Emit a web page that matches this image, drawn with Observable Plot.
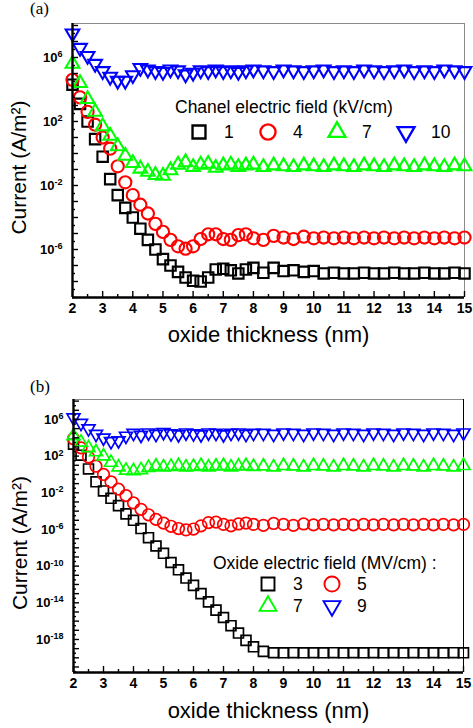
<!DOCTYPE html>
<html><head><meta charset="utf-8">
<script src="https://cdn.jsdelivr.net/npm/d3@7"></script>
<script src="https://cdn.jsdelivr.net/npm/@observablehq/plot@0.6"></script>
<style>
html,body{margin:0;padding:0;background:#fff}
body{width:473px;height:728px;position:relative;overflow:hidden;font-family:"Liberation Sans",Arial,sans-serif}
.panel{position:absolute;left:0;width:473px}
.tag{position:absolute;font-family:"Liberation Serif","Times New Roman",serif;font-size:17px;line-height:17px}
.ltitle{position:absolute;font-size:17.5px;line-height:20px;white-space:nowrap;color:#000}
</style></head><body>
<div id="pa" class="panel" style="top:0"></div>
<div id="pb" class="panel" style="top:364px"></div>
<div class="tag" style="left:30px;top:0px">(a)</div>
<div class="tag" style="left:30px;top:378px">(b)</div>
<script>
// ---------- data ----------
const thickness = [2,2.25,2.5,2.75,3,3.25,3.5,3.75,4,4.25,4.5,4.75,5,5.25,5.5,5.75,6,6.25,6.5,6.75,7,7.25,7.5,7.75,8,8.33,8.67,9,9.33,9.67,10,10.33,10.67,11,11.33,11.67,12,12.33,12.67,13,13.33,13.67,14,14.33,14.67,15];
const xTickLabels = [2,3,4,5,6,7,8,9,10,11,12,13,14,15];

// panel (a): channel electric field (kV/cm)
const chanelFields = ["1","4","7","10"];
const currentA_1 = [2.0e4,1.26e3,1e2,7.9,6.3e-1,2.5e-2,2.5e-3,4.0e-4,1e-4,2.0e-5,4.0e-6,1e-6,2.5e-7,1e-7,4.0e-8,1.78e-8,1.12e-8,1e-8,1.78e-8,5.6e-8,6.3e-8,5.0e-8,3.2e-8,5.6e-8,7.1e-8,3.5e-8,7.1e-8,4.5e-8,5.0e-8,4.0e-8,4.5e-8,3.2e-8,3.5e-8,3.2e-8,3.2e-8,3.5e-8,3.2e-8,3.2e-8,3.5e-8,3.2e-8,3.2e-8,3.5e-8,3.2e-8,3.2e-8,3.5e-8,3.2e-8];
const currentA_4 = [4.0e4,3.2e3,4.0e2,6.3e1,1e1,2.0,1.58e-1,1.58e-2,2.5e-3,6.3e-4,1.78e-4,4.0e-5,1.26e-5,4.0e-6,1.58e-6,1.12e-6,1.58e-6,4.5e-6,8.9e-6,8.9e-6,4.5e-6,4.0e-6,7.9e-6,8.9e-6,5.0e-6,4.0e-6,7.1e-6,5.6e-6,4.5e-6,6.3e-6,5.0e-6,5.6e-6,5.0e-6,5.6e-6,5.0e-6,5.6e-6,5.0e-6,5.6e-6,5.0e-6,5.6e-6,5.0e-6,5.6e-6,5.0e-6,5.6e-6,5.0e-6,5.6e-6];
const currentA_7 = [4.0e5,2.5e4,2.5e3,4.0e2,5.0e1,1.26e1,2.82,7.1e-1,2.5e-1,1.12e-1,7.1e-2,4.5e-2,4.0e-2,8.9e-2,2.0e-1,2.82e-1,1.41e-1,2.0e-1,2.24e-1,1.26e-1,1.78e-1,2.0e-1,1.41e-1,1.78e-1,2.0e-1,1.41e-1,1.78e-1,1.58e-1,1.41e-1,1.78e-1,1.58e-1,1.41e-1,1.78e-1,1.58e-1,1.41e-1,1.78e-1,1.58e-1,1.41e-1,1.78e-1,1.58e-1,1.41e-1,1.78e-1,1.58e-1,1.41e-1,1.78e-1,1.58e-1];
const currentA_10 = [3.2e7,4.0e6,1.26e6,4.0e5,1.41e5,6.3e4,3.55e4,3.55e4,7.9e4,2.24e5,1.78e5,1.41e5,1.26e5,1.78e5,1.58e5,8.9e4,1.12e5,1.58e5,1.41e5,1.78e5,1.41e5,1.58e5,1.26e5,1.58e5,1.78e5,1.58e5,1.41e5,1.78e5,1.58e5,1.41e5,1.58e5,1.78e5,1.41e5,1.58e5,1.41e5,1.78e5,1.58e5,1.41e5,1.58e5,1.78e5,1.41e5,1.58e5,1.41e5,1.78e5,1.58e5,1.41e5];
const yTickLabelsA = [1e6,1e2,1e-2,1e-6];

// panel (b): oxide electric field (MV/cm)
const oxideFields = ["3","5","7","9"];
const currentB_3 = [2.0e3,1.26e2,4.0,1.58e-1,1.58e-2,2.5e-3,4.0e-4,5.0e-5,1e-5,1.26e-6,1.26e-7,1.58e-8,2.5e-9,2.5e-10,4.0e-11,5.0e-12,7.9e-13,1e-13,1.26e-14,1.58e-15,2.5e-16,3.2e-17,5.0e-18,7.9e-19,1.58e-19,5.0e-20,3.55e-20,3.5e-20,3.6e-20,3.5e-20,3.55e-20,3.5e-20,3.6e-20,3.5e-20,3.55e-20,3.5e-20,3.6e-20,3.5e-20,3.55e-20,3.5e-20,3.6e-20,3.5e-20,3.55e-20,3.5e-20,3.6e-20,3.5e-20];
const currentB_5 = [7.9e3,7.9e2,7.9e1,7.9,1,1.58e-1,2.5e-2,5.0e-3,7.9e-4,1.58e-4,4.0e-5,1.26e-5,5.0e-6,2.24e-6,1.26e-6,8.9e-7,1.12e-6,2.5e-6,5.6e-6,6.3e-6,3.55e-6,2.5e-6,4.0e-6,5.0e-6,3.55e-6,2.82e-6,4.5e-6,3.55e-6,2.82e-6,4.0e-6,3.16e-6,3.55e-6,3.16e-6,3.55e-6,3.16e-6,3.55e-6,3.16e-6,3.55e-6,3.16e-6,3.55e-6,3.16e-6,3.55e-6,3.16e-6,3.55e-6,3.16e-6,3.55e-6];
const currentB_7 = [1.58e4,3.2e3,7.9e2,2.8e2,1e2,2.0e1,6.3,2.8,2.5,3.2,5.6,7.9,6.3,7.1,8.9,6.3,7.1,8.9,6.3,7.9,8.9,6.3,7.9,8.9,7.1,7.9,6.3,8.9,7.9,6.3,8.9,7.9,6.3,8.9,7.9,6.3,8.9,7.9,6.3,8.9,7.9,6.3,8.9,7.9,6.3,8.9];
const currentB_9 = [1.58e6,4.0e5,1e5,2.5e4,1e4,4.0e3,5.0e3,1.58e4,3.2e4,2.0e4,3.55e4,2.5e4,4.0e4,2.8e4,2.24e4,3.55e4,2.8e4,2.24e4,3.55e4,3.2e4,2.24e4,3.2e4,3.55e4,2.5e4,3.2e4,3.2e4,2.5e4,3.55e4,3.2e4,2.5e4,3.55e4,3.2e4,2.5e4,3.55e4,3.2e4,2.5e4,3.55e4,3.2e4,2.5e4,3.55e4,3.2e4,2.5e4,3.55e4,3.2e4,2.5e4,3.55e4];
const yTickLabelsB = [1e6,1e2,1e-2,1e-6,1e-10,1e-14,1e-18];

const seriesColors = ["#000000","#ff0000","#00ff00","#0000ff"];

// ---------- marker shapes (open square, circle, up / down triangle) ----------
const SQ3 = Math.sqrt(3);
const rad = size => Math.sqrt(size / Math.PI);
const symSquare = {draw(c, size) { const h = 0.9 * rad(size); c.rect(-h, -h, 2 * h, 2 * h); }};
const symCircle = {draw(c, size) { const r = 1.05 * rad(size); c.moveTo(r, 0); c.arc(0, 0, r, 0, 2 * Math.PI); }};
function triangle(dir) {
  return {draw(c, size) {
    const s = 2.35 * rad(size), h = s * SQ3 / 2;
    c.moveTo(0, -dir * 2 * h / 3); c.lineTo(s / 2, dir * h / 3); c.lineTo(-s / 2, dir * h / 3); c.closePath();
  }};
}
const seriesSymbols = [symSquare, symCircle, triangle(1), triangle(-1)];

// ---------- drawing ----------
const NS = "http://www.w3.org/2000/svg";
function panel(cfg) {
  const rows = [];
  cfg.series.forEach((vals, i) => vals.forEach((v, j) => rows.push({t: thickness[j], cur: v, field: cfg.fields[i]})));
  const W = 473, H = cfg.height;
  const fw = W - cfg.ml - cfg.mr, fh = H - cfg.mt - cfg.mb;
  const [y0, y1] = cfg.yDomain;
  const e0 = Math.ceil(Math.log10(y0)), e1 = Math.floor(Math.log10(y1));
  const decades = d3.range(e0, e1 + 1).map(e => 10 ** e);
  const halves = d3.range(e0 - 1, e1 + 1).map(e => 10 ** (e + 0.5)).filter(v => v > y0 && v < y1);
  const xMinor = xTickLabels.slice(0, -1).map(v => v + 0.5);
  const p = Plot.plot({
    width: W, height: H,
    marginLeft: cfg.ml, marginRight: cfg.mr, marginTop: cfg.mt, marginBottom: cfg.mb,
    x: {domain: [2, 15], label: null},
    y: {type: "log", domain: cfg.yDomain, label: null},
    symbol: {domain: cfg.fields, range: seriesSymbols},
    color: {domain: cfg.fields, range: seriesColors},
    style: {fontFamily: '"Liberation Sans", Arial, sans-serif', fontSize: "14px", color: "#000", background: "transparent", overflow: "visible"},
    marks: [
      Plot.ruleY([y1], {stroke: "#8a8a8a", strokeWidth: 1}),
      Plot.ruleX([15], {stroke: cfg.rightStroke, strokeWidth: 1}),
      Plot.dot(rows, {x: "t", y: "cur", symbol: "field", stroke: "field", r: cfg.r, strokeWidth: cfg.sw}),
      Plot.ruleX(xMinor, {insetTop: fh - 3, stroke: "#000", strokeWidth: 1.4}),
      Plot.ruleX(xTickLabels, {insetTop: fh - 6, stroke: "#000", strokeWidth: 1.4}),
      Plot.ruleY(halves, {insetRight: fw - 3, stroke: "#000", strokeWidth: 1.4}),
      Plot.ruleY(decades, {insetRight: fw - 6, stroke: "#000", strokeWidth: 1.4}),
      Plot.ruleX([2], {stroke: "#000", strokeWidth: 2.4}),
      Plot.ruleY([y0], {stroke: "#000", strokeWidth: 2.4}),
      Plot.axisX({ticks: xTickLabels, tickSize: 0, tickPadding: 6, tickFormat: d => String(d), fontWeight: "bold", fontSize: 14, label: null}),
      Plot.axisY({ticks: cfg.yTicks, tickSize: 0, tickPadding: 10, tickFormat: d => "10^" + Math.round(Math.log10(d)), fontWeight: "bold", fontSize: 13, label: null}),
      Plot.text(["oxide thickness (nm)"], {text: d => d, frameAnchor: "bottom", dy: cfg.xTitleDy, fontSize: 22}),
      Plot.text(["Current (A/m²)"], {text: d => d, frameAnchor: "left", textAnchor: "middle", rotate: -90, dx: -53, dy: 7, fontSize: 21})
    ]
  });
  p.querySelectorAll('g[aria-label="y-axis tick label"] text').forEach(t => {
    const m = /^10\^(-?\d+)$/.exec(t.textContent);
    if (!m) return;
    t.textContent = "";
    const b = document.createElementNS(NS, "tspan"); b.textContent = "10";
    const s = document.createElementNS(NS, "tspan");
    s.setAttribute("dy", "-0.5em"); s.setAttribute("font-size", "9"); s.textContent = m[1];
    t.append(b, s);
  });
  cfg.el.appendChild(p);

  // legend
  const title = document.createElement("div");
  title.className = "ltitle";
  title.style.left = cfg.legTitle[0] + "px"; title.style.top = cfg.legTitle[1] + "px";
  title.textContent = cfg.legendTitle;
  cfg.el.appendChild(title);
  const leg = p.legend("symbol", {r: 6.4, strokeWidth: cfg.sw, swatchSize: 18});
  leg.style.cssText = `position:absolute;left:${cfg.leg[0]}px;top:${cfg.leg[1]}px;width:${cfg.itemW * cfg.cols}px;display:flex;flex-wrap:wrap;margin:0;min-height:0;font-family:"Liberation Sans",Arial,sans-serif;font-size:17.5px;color:#000;background:transparent`;
  leg.querySelectorAll(":scope > span").forEach(sp => {
    sp.style.width = cfg.itemW + "px"; sp.style.margin = "0"; sp.style.height = cfg.rowH + "px";
    sp.style.display = "inline-flex"; sp.style.alignItems = "center";
    const sv = sp.querySelector("svg"); if (sv) { sv.style.marginRight = cfg.gap + "px"; sv.style.overflow = "visible"; }
  });
  cfg.el.appendChild(leg);
}

panel({
  el: document.getElementById("pa"), height: 364, ml: 72, mr: 9, mt: 23, mb: 67,
  yDomain: [1e-9, 1.33e8], yTicks: yTickLabelsA, fields: chanelFields,
  series: [currentA_1, currentA_4, currentA_7, currentA_10],
  rightStroke: "#8a8a8a", r: 5.8, sw: 2.1, xTitleDy: 44,
  legendTitle: "Chanel electric field (kV/cm)", legTitle: [175, 97],
  leg: [190, 122], itemW: 69, cols: 4, rowH: 20, gap: 16
});
panel({
  el: document.getElementById("pb"), height: 364, ml: 73, mr: 10, mt: 35, mb: 56,
  yDomain: [2.5e-22, 1.5e8], yTicks: yTickLabelsB, fields: oxideFields,
  series: [currentB_3, currentB_5, currentB_7, currentB_9],
  rightStroke: "#000", r: 5.5, sw: 1.7, xTitleDy: 45,
  legendTitle: "Oxide electric field (MV/cm) :", legTitle: [213, 189],
  leg: [259, 209], itemW: 64, cols: 2, rowH: 22, gap: 16
});
</script>
</body></html>
